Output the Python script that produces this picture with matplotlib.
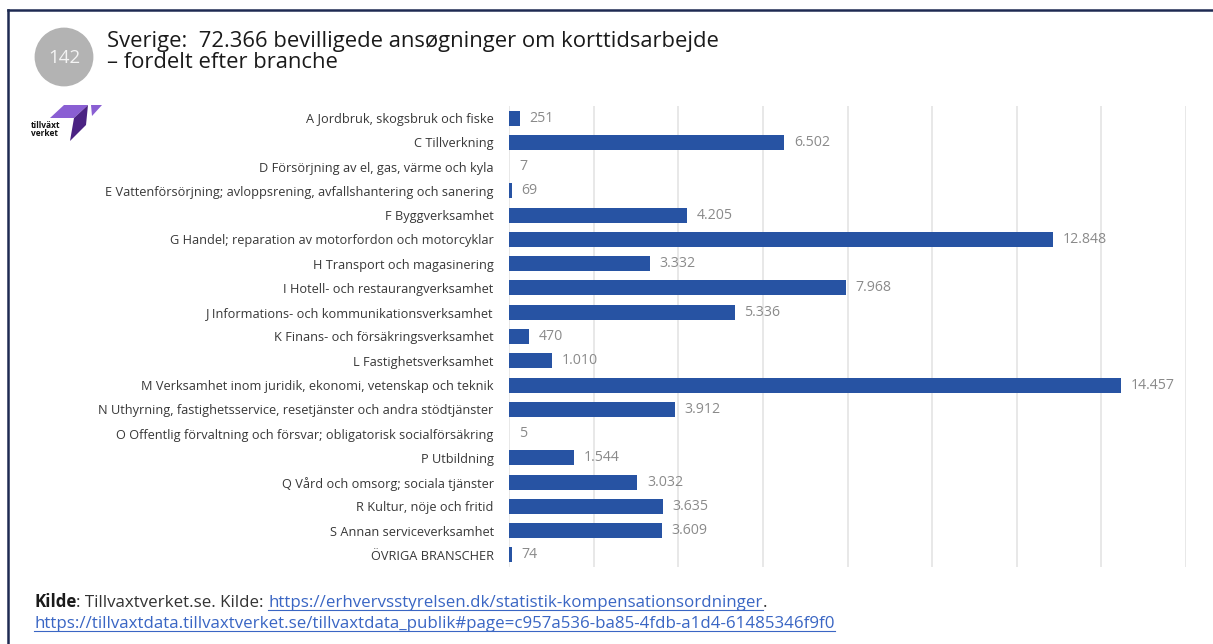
import numpy as np
import matplotlib.pyplot as plt
from matplotlib.patches import Circle, Polygon
from matplotlib.lines import Line2D

plt.rcParams['font.family'] = ['Open Sans', 'DejaVu Sans']

# Brancher og antal bevilligede ansøgninger
brancher = [
    'A Jordbruk, skogsbruk och fiske',
    'C Tillverkning',
    'D Försörjning av el, gas, värme och kyla',
    'E Vattenförsörjning; avloppsrening, avfallshantering och sanering',
    'F Byggverksamhet',
    'G Handel; reparation av motorfordon och motorcyklar',
    'H Transport och magasinering',
    'I Hotell- och restaurangverksamhet',
    'J Informations- och kommunikationsverksamhet',
    'K Finans- och försäkringsverksamhet',
    'L Fastighetsverksamhet',
    'M Verksamhet inom juridik, ekonomi, vetenskap och teknik',
    'N Uthyrning, fastighetsservice, resetjänster och andra stödtjänster',
    'O Offentlig förvaltning och försvar; obligatorisk socialförsäkring',
    'P Utbildning',
    'Q Vård och omsorg; sociala tjänster',
    'R Kultur, nöje och fritid',
    'S Annan serviceverksamhet',
    'ÖVRIGA BRANSCHER',
]
antal = [251, 6502, 7, 69, 4205, 12848, 3332, 7968, 5336, 470,
         1010, 14457, 3912, 5, 1544, 3032, 3635, 3609, 74]

titel1 = 'Sverige:  72.366 bevilligede ansøgninger om korttidsarbejde'
titel2 = '– fordelt efter branche'
nummer = '142'
link1 = 'https://erhvervsstyrelsen.dk/statistik-kompensationsordninger'
link2 = 'https://tillvaxtdata.tillvaxtverket.se/tillvaxtdata_publik#page=c957a536-ba85-4fdb-a1d4-61485346f9f0'

W, H = 1213, 644
fig = plt.figure(figsize=(W / 100, H / 100), dpi=100)
fig.patch.set_facecolor('white')

ax = fig.add_axes([509 / W, 1 - 567 / H, (1186 - 509) / W, (567 - 106) / H])
y = np.arange(len(brancher))
ax.barh(y, antal, height=0.62, color='#2753a3', zorder=3)
ax.set_xlim(0, 16000)
ax.set_ylim(len(brancher) - 0.5, -0.5)
ax.set_xticks(np.arange(0, 16001, 2000))
ax.xaxis.grid(True, color='#e8e8e8', linewidth=1.4, zorder=0)
ax.tick_params(axis='x', length=0, labelbottom=False)
ax.tick_params(axis='y', length=0, pad=11, labelsize=9.15, labelcolor='#383838')
ax.set_yticks(y)
ax.set_yticklabels(brancher)
for s in ax.spines.values():
    s.set_visible(False)

for yi, v in zip(y, antal):
    ax.annotate(f'{v:,}'.replace(',', '.'), (v, yi), xytext=(7, 0),
                textcoords='offset points', va='center', ha='left',
                fontsize=10.2, color='#8a8a8a')

# ramme
fig.add_artist(Line2D([8 / W, 8 / W], [0, 1 - 10 / H], color='#1e2a52', lw=1.8))
fig.add_artist(Line2D([8 / W, 1], [1 - 10 / H, 1 - 10 / H], color='#1e2a52', lw=1.8))

# nummer-cirkel
cax = fig.add_axes([34 / W, 1 - 87 / H, 60 / W, 60 / H])
cax.set_xlim(-1, 1)
cax.set_ylim(-1, 1)
cax.set_aspect('equal')
cax.axis('off')
cax.add_patch(Circle((0, 0), 0.98, facecolor='#b3b3b3', edgecolor='none'))
cax.text(0, -0.02, nummer, ha='center', va='center', color='#f4f4f4', fontsize=13.5)

fig.text(107 / W, 1 - 42 / H, titel1, ha='left', va='center', fontsize=15.85, color='#1a1a1a')
fig.text(107 / W, 1 - 62 / H, titel2, ha='left', va='center', fontsize=15.85, color='#1a1a1a')

# logo
lax = fig.add_axes([28 / W, 1 - 145 / H, 76 / W, 42 / H])
lax.set_xlim(0, 76)
lax.set_ylim(42, 0)
lax.axis('off')
lax.add_patch(Polygon([[36, 2], [60, 2], [46, 15], [22, 15]], facecolor='#8a5fd3'))
lax.add_patch(Polygon([[60, 2], [46, 15], [42, 38], [58, 22]], facecolor='#4b2383'))
lax.add_patch(Polygon([[63, 2], [74, 2], [64, 13]], facecolor='#8a5fd3'))
lax.text(3, 18, 'tillväxt\nverket', ha='left', va='top', fontsize=6,
         fontweight='bold', color='#111111', linespacing=0.8)

# kilde
fig.canvas.draw()
r = fig.canvas.get_renderer()


def put(x, ypx, s, **kw):
    t = fig.text(x / W, 1 - ypx / H, s, ha='left', va='baseline', fontsize=12.2, **kw)
    bb = t.get_window_extent(r)
    return t, bb


x = 34
t, bb = put(x, 607, 'Kilde', color='#1a1a1a', fontweight='bold')
x = bb.x1
t, bb = put(x, 607, ': Tillvaxtverket.se. Kilde: ', color='#333333')
x = bb.x1
t, bb = put(x, 607, link1, color='#3a66c4')
fig.add_artist(Line2D([bb.x0 / W, bb.x1 / W], [(H - 610) / H] * 2, color='#3a66c4', lw=0.8))
put(bb.x1, 607, '.', color='#333333')
t, bb = put(34, 628, link2, color='#3a66c4')
fig.add_artist(Line2D([bb.x0 / W, bb.x1 / W], [(H - 631) / H] * 2, color='#3a66c4', lw=0.8))

fig.savefig('out.png', dpi=100)
